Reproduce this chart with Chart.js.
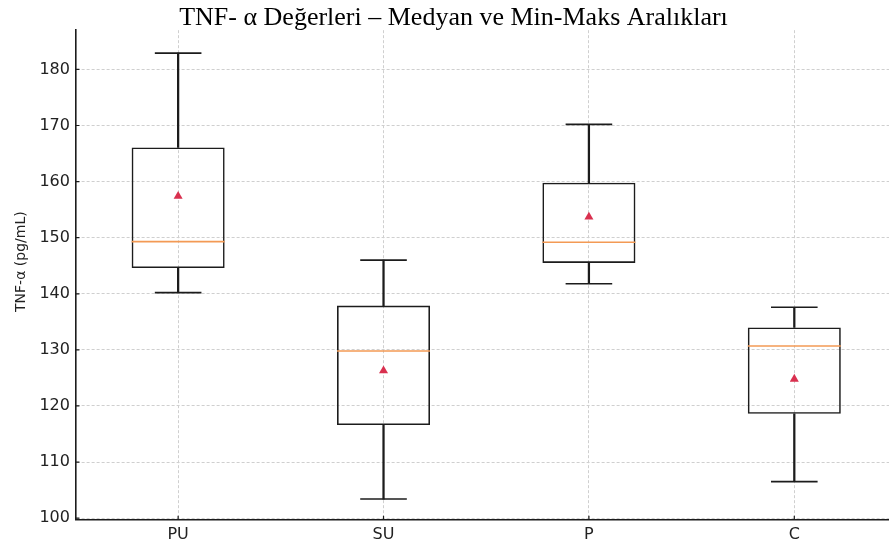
<!DOCTYPE html>
<html>
<head>
<meta charset="utf-8">
<script src="https://cdn.jsdelivr.net/npm/chart.js@4"></script>
<style>
  html, body { margin: 0; padding: 0; background: #fff; overflow: hidden; }
</style>
</head>
<body>
<canvas id="box_chart" width="902" height="549"></canvas>
<script>
// group names and box stats
const categories = ['PU', 'SU', 'P', 'C'];
const mins    = [140.2, 103.4, 141.8, 106.5];
const q1s     = [144.6, 116.6, 145.5, 118.6];
const medians = [149.3, 129.8, 149.2, 130.7];
const q3s     = [166.1, 137.9, 159.8, 134.0];
const maxs    = [182.9, 146.0, 170.2, 137.6];
const means   = [157.4, 126.3, 153.7, 124.8];
const yTicks  = [100, 110, 120, 130, 140, 150, 160, 170, 180];

const boxes     = categories.map((c, i) => [q1s[i], q3s[i]]);
const lowWhisk  = categories.map((c, i) => [mins[i], q1s[i]]);
const highWhisk = categories.map((c, i) => [q3s[i], maxs[i]]);

const ink = '#1c1c1c';

const marker = (data, style, radius, color, width, order) => ({
  type: 'line',
  data: data,
  order: order,
  showLine: false,
  pointStyle: style,
  pointRadius: radius,
  pointHoverRadius: radius,
  pointBorderColor: color,
  pointBackgroundColor: color,
  pointBorderWidth: width,
  borderColor: color
});

// short inward tick marks like matplotlib's "in" ticks
const inTicks = {
  id: 'inTicks',
  afterDraw(c) {
    const { ctx, chartArea, scales } = c;
    ctx.save();
    ctx.strokeStyle = ink;
    ctx.lineWidth = 1.2;
    ctx.beginPath();
    scales.y.ticks.forEach((t, i) => {
      const y = scales.y.getPixelForTick(i);
      ctx.moveTo(chartArea.left, y);
      ctx.lineTo(chartArea.left + 4, y);
    });
    scales.x.ticks.forEach((t, i) => {
      const x = scales.x.getPixelForValue(i);
      ctx.moveTo(x, chartArea.bottom);
      ctx.lineTo(x, chartArea.bottom - 4);
    });
    ctx.stroke();
    ctx.restore();
  }
};

const ctx = document.getElementById('box_chart').getContext('2d');
new Chart(ctx, {
  type: 'bar',
  data: {
    labels: categories,
    datasets: [
      { data: lowWhisk, backgroundColor: ink, barThickness: 1.6, grouped: false, order: 5 },
      { data: highWhisk, backgroundColor: ink, barThickness: 1.6, grouped: false, order: 5 },
      {
        data: boxes,
        backgroundColor: 'rgba(0,0,0,0)',
        borderColor: ink,
        borderWidth: 1.6,
        borderSkipped: false,
        barPercentage: 0.453,
        categoryPercentage: 1,
        grouped: false,
        order: 4
      },
      marker(mins, 'line', 23.3, ink, 1.6, 3),
      marker(maxs, 'line', 23.3, ink, 1.6, 3),
      marker(medians, 'line', 46.5, '#f39a55', 1.6, 2),
      marker(means, 'triangle', 5.2, '#d9304f', 0, 1)
    ]
  },
  options: {
    responsive: false,
    animation: false,
    layout: { autoPadding: false, padding: { left: 10, right: 5, top: 0, bottom: 0 } },
    plugins: {
      legend: { display: false },
      tooltip: { enabled: false },
      title: {
        display: true,
        text: 'TNF- α Değerleri – Medyan ve Min-Maks Aralıkları',
        font: { family: 'Liberation Serif', size: 26, weight: 'normal', lineHeight: 0.93 },
        color: '#000',
        padding: { top: 6, bottom: 0 }
      }
    },
    scales: {
      x: {
        offset: true,
        grid: { offset: false, color: '#cfcfcf', lineWidth: 1, drawTicks: false },
        border: { color: ink, width: 1.6, dash: [3, 2] },
        ticks: { color: '#222', font: { family: 'DejaVu Sans', size: 16 }, padding: 5 }
      },
      y: {
        min: 99.7,
        max: 187,
        afterBuildTicks: (axis) => { axis.ticks = yTicks.map(v => ({ value: v })); },
        grid: { color: '#cfcfcf', lineWidth: 1, drawTicks: false },
        border: { color: ink, width: 1.6, dash: [3, 2] },
        ticks: { color: '#222', font: { family: 'DejaVu Sans', size: 16 }, padding: 5.5 },
        title: {
          display: true,
          text: '\u00A0\u00A0\u00A0\u00A0\u00A0\u00A0TNF-α (pg/mL)',
          color: '#222',
          font: { family: 'DejaVu Sans', size: 14 },
          padding: { top: 3.1, bottom: 4 }
        }
      }
    }
  },
  plugins: [inTicks]
});
</script>
</body>
</html>
